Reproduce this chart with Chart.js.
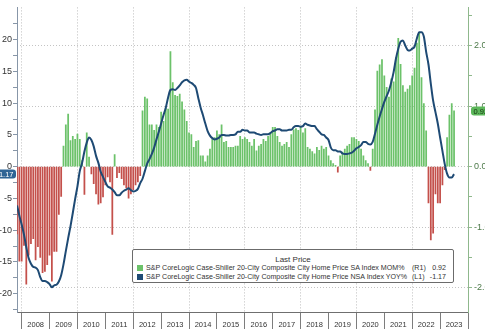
<!DOCTYPE html>
<html>
<head>
<meta charset="utf-8">
<script src="https://cdn.jsdelivr.net/npm/chart.js@4.4.1/dist/chart.umd.min.js"></script>
<style>
  html, body { margin: 0; padding: 0; background: #fff; }
  #wrap { position: relative; width: 485px; height: 329px; overflow: hidden; }
  #chart { position: absolute; left: 0; top: 0; }
  #legendBox {
    position: absolute; left: 132px; top: 249px; width: 320px; height: 32px;
    border: 1px solid #6b6b6b; border-radius: 2px; background: #fff;
    font-family: "Liberation Sans", Arial, sans-serif; font-size: 7.1px; color: #333;
  }
  #legendBox div { position: absolute; white-space: nowrap; line-height: 8px; height: 8px; }
  .lgTitle { left: 0; right: 0; top: 6px; text-align: center; font-size: 8px; }
  .sw { width: 6px !important; height: 6px !important; }
</style>
</head>
<body>
<div id="wrap">
  <canvas id="chart" width="485" height="329"></canvas>
  <div id="legendBox">
    <div class="lgTitle">Last Price</div>
    <div class="sw" style="left:4px; top:15px; background:#6cc26a;"></div>
    <div id="lgName1" style="left:13px; top:14px;"></div>
    <div style="left:279px; top:14px;">(R1)</div>
    <div id="lgVal1" style="left:294px; width:19px; text-align:right; top:14px;"></div>
    <div class="sw" style="left:4px; top:24px; background:#1e4a74;"></div>
    <div id="lgName2" style="left:13px; top:23px;"></div>
    <div style="left:279px; top:23px;">(L1)</div>
    <div id="lgVal2" style="left:294px; width:19px; text-align:right; top:23px;"></div>
  </div>
</div>
<script>
// monthly series, first observation Oct 2007, last Jun 2023
const startYear = 2007;
const startMonth = 10;

const yearLabels = ['2008','2009','2010','2011','2012','2013','2014','2015',
                    '2016','2017','2018','2019','2020','2021','2022','2023'];

const momName = 'S&P CoreLogic Case-Shiller 20-City Composite City Home Price SA Index MOM%';
const yoyName = 'S&P CoreLogic Case-Shiller 20-City Composite City Home Price NSA Index YOY%';

// SA index, month over month %
const momValues = [
  -1.11, -1.56, -1.56,                                                        // 2007 Q4
  -1.30, -1.94, -1.46, -1.27, -1.19, -1.54, -1.32, -1.50, -1.75, -1.73, -1.62, -1.46, // 2008
  -1.89, -1.40, -1.40, -0.79, -0.49, 0.34, 0.69, 0.87, 0.43, 0.50, 0.45, 0.54,        // 2009
  0.45, 0.10, -0.46, 0.56, 0.16, -0.12, -0.28, -0.45, -0.62, -0.60, -0.50, -0.30,     // 2010
  -0.17, -0.25, -1.12, 0.20, -0.18, -0.10, -0.20, -0.30, -0.35, -0.52, -0.45, -0.38,  // 2011
  -0.30, -0.25, -0.15, 0.92, 1.15, 1.12, 0.69, 0.69, 0.60, 0.69, 0.65, 0.90,          // 2012
  0.75, 0.97, 0.95, 1.90, 1.39, 1.18, 1.16, 1.20, 1.07, 0.94, 0.75, 0.56,             // 2013
  0.53, 0.32, 0.42, 0.43, 0.18, 0.18, 0.08, 0.18, 0.29, 0.45, 0.48, 0.59,             // 2014
  0.53, 0.69, 0.40, 0.42, 0.32, 0.32, 0.32, 0.34, 0.34, 0.50, 0.45, 0.48,             // 2015
  0.45, 0.40, 0.34, 0.45, 0.26, 0.34, 0.37, 0.45, 0.42, 0.50, 0.56, 0.65,             // 2016
  0.65, 0.50, 0.40, 0.34, 0.37, 0.40, 0.32, 0.53, 0.61, 0.63, 0.60, 0.65,             // 2017
  0.56, 0.63, 0.32, 0.29, 0.25, 0.21, 0.32, 0.27, 0.34, 0.29, 0.32, 0.18,             // 2018
  0.10, 0.05, 0.02, -0.09, 0.18, 0.24, 0.29, 0.34, 0.37, 0.48, 0.48, 0.45,            // 2019
  0.42, 0.29, 0.18, 0.10, 0.05, -0.06, 0.29, 0.94, 1.58, 1.68, 1.77, 1.50,            // 2020
  1.31, 1.15, 1.45, 1.40, 1.80, 2.12, 1.69, 1.34, 1.23, 1.28, 1.34, 1.50,             // 2021
  1.63, 2.04, 2.22, 1.47, 1.04, 0.59, -0.60, -1.21, -1.10, -0.45, -0.60, -0.60,       // 2022
  -0.30, -0.05, 0.48, 0.85, 1.04, 0.92                                                // 2023
];

// NSA index, year over year %
const yoyValues = [
  -6.1, -7.7, -9.1,
  -10.7, -12.7, -14.4, -15.3, -15.8, -15.9, -16.3, -17.4, -18.0, -18.0, -18.2, -18.5,
  -19.0, -18.7, -18.6, -18.1, -17.1, -15.4, -13.3, -11.3, -9.4, -7.3, -5.1, -3.1,
  -0.7, 0.6, 2.4, 3.8, 4.6, 4.2, 3.2, 1.7, 0.6, -0.8, -1.6, -2.4,
  -3.1, -3.3, -3.6, -4.0, -4.5, -4.5, -4.1, -3.8, -3.6, -3.4, -3.7, -3.9,
  -3.8, -3.5, -2.6, -1.9, -0.7, 0.5, 1.2, 2.0, 3.0, 4.3, 5.5, 6.8,
  8.1, 9.3, 10.9, 12.1, 12.2, 12.1, 12.4, 12.8, 13.3, 13.6, 13.7, 13.4,
  13.2, 12.9, 12.4, 10.8, 9.3, 8.1, 6.8, 5.6, 4.9, 4.5, 4.3, 4.4,
  4.6, 5.0, 5.0, 4.9, 4.9, 5.0, 5.0, 5.1, 5.5, 5.5, 5.8, 5.7,
  5.7, 5.4, 5.4, 5.4, 5.2, 5.1, 5.0, 5.1, 5.1, 5.1, 5.3, 5.6,
  5.7, 5.9, 5.9, 5.7, 5.7, 5.7, 5.8, 5.8, 6.2, 6.4, 6.4, 6.3,
  6.4, 6.8, 6.6, 6.5, 6.4, 6.4, 5.9, 5.5, 5.1, 5.0, 4.6, 4.2,
  3.0, 2.6, 2.6, 2.4, 2.4, 2.1, 2.0, 2.0, 2.1, 2.2, 2.5, 2.9,
  3.1, 3.4, 3.9, 3.9, 3.6, 3.5, 3.9, 5.2, 6.6, 7.9, 9.1, 10.2,
  11.1, 12.0, 13.3, 14.9, 17.0, 18.6, 19.7, 19.9, 19.1, 18.4, 18.3, 18.6,
  18.9, 20.2, 21.2, 21.2, 20.5, 18.1, 16.1, 13.1, 10.4, 8.6, 6.8, 4.6,
  2.5, 0.4, -1.1, -1.7, -1.7, -1.17
];

const leftTicks = [-22.5,-20,-17.5,-15,-12.5,-10,-7.5,-5,-2.5,0,2.5,5,7.5,10,12.5,15,17.5,20,22.5];
const leftLabels = [-20,-15,-10,-5,0,5,10,15,20];
const rightTicks = [-2,-1.5,-1,-0.5,0,0.5,1,1.5,2,2.5];
const rightLabels = [-2,-1,0,1,2];

const green = '#6cc26a';
const red = '#c4504b';
const navy = '#1e4a74';

// x = months since 1 Jan 2008, each observation sits at its month end
const firstOffset = (startYear - 2008) * 12 + (startMonth - 1) + 1;
const toX = i => firstOffset + i;

const momPoints = momValues.map((v, i) => ({x: toX(i), y: v}));
const yoyPoints = yoyValues.map((v, i) => ({x: toX(i), y: v}));

document.getElementById('lgName1').textContent = momName;
document.getElementById('lgName2').textContent = yoyName;
document.getElementById('lgVal1').textContent = momValues[momValues.length - 1].toFixed(2);
document.getElementById('lgVal2').textContent = yoyValues[yoyValues.length - 1].toFixed(2);

function roundRect(ctx, x, y, w, h, r) {
  ctx.beginPath();
  ctx.moveTo(x + r, y);
  ctx.arcTo(x + w, y, x + w, y + h, r);
  ctx.arcTo(x + w, y + h, x, y + h, r);
  ctx.arcTo(x, y + h, x, y, r);
  ctx.arcTo(x, y, x + w, y, r);
  ctx.closePath();
}

// last value tags on both axes
const lastTags = {
  id: 'lastTags',
  afterDraw(chart) {
    const ctx = chart.ctx;
    const yoyLast = yoyValues[yoyValues.length - 1];
    const momLast = momValues[momValues.length - 1];
    const yl = chart.scales.yL.getPixelForValue(yoyLast);
    const yr = chart.scales.yR.getPixelForValue(momLast);
    ctx.save();
    ctx.font = '7.5px "Liberation Sans", Arial, sans-serif';
    ctx.textBaseline = 'middle';

    roundRect(ctx, -4, yl - 4.5, 20, 9, 3);
    ctx.fillStyle = '#2f6495';
    ctx.fill();
    ctx.fillStyle = '#fff';
    ctx.textAlign = 'right';
    ctx.fillText(yoyLast.toFixed(2), 13.5, yl + 0.5);

    roundRect(ctx, 471, yr - 4.5, 20, 9, 3);
    ctx.fillStyle = '#5cb85a';
    ctx.fill();
    ctx.fillStyle = '#14300f';
    ctx.textAlign = 'left';
    ctx.fillText(momLast.toFixed(2), 473.5, yr + 0.5);
    ctx.restore();
  }
};

const isEvenYear = v => Math.round(v) % 24 === 0;

new Chart(document.getElementById('chart'), {
  data: {
    datasets: [
      {
        type: 'line', label: yoyName, data: yoyPoints, yAxisID: 'yL', order: 0,
        borderColor: navy, borderWidth: 2, pointRadius: 0,
        tension: 0.4, cubicInterpolationMode: 'monotone'
      },
      {
        type: 'bar', label: momName, data: momPoints, yAxisID: 'yR', order: 1,
        backgroundColor: momValues.map(v => v >= 0 ? green : red),
        barThickness: 1.1
      }
    ]
  },
  options: {
    responsive: false, animation: false, devicePixelRatio: 1,
    layout: {padding: 0},
    plugins: {legend: {display: false}, tooltip: {enabled: false}},
    scales: {
      x: {
        type: 'linear', position: 'bottom', offset: false,
        min: toX(0), max: yearLabels.length * 12,
        afterBuildTicks: s => { s.ticks = yearLabels.map((y, i) => ({value: i * 12})).concat([{value: yearLabels.length * 12}]); },
        afterFit: s => { s.height = 17; },
        grid: {
          offset: false,
          color: c => (c.tick && isEvenYear(c.tick.value)) ? '#bdbdbd' : 'rgba(0,0,0,0)',
          tickColor: '#7d7d7d', tickLength: 17, lineWidth: 1
        },
        border: {color: '#6f6f6f', dash: [1, 2]},
        ticks: {
          autoSkip: false, maxRotation: 0, padding: -9, labelOffset: 14,
          color: '#333', font: {family: '"Liberation Sans", Arial, sans-serif', size: 7.5},
          callback: (v, i) => yearLabels[i] || ''
        }
      },
      yL: {
        type: 'linear', position: 'left', min: -22.9, max: 25.1,
        afterBuildTicks: s => { s.ticks = leftTicks.map(v => ({value: v})); },
        afterFit: s => { s.width = 17; },
        grid: {drawOnChartArea: false, tickColor: '#8796a8', tickLength: 4},
        border: {color: '#8796a8'},
        ticks: {
          padding: 1, color: '#333', font: {family: '"Liberation Sans", Arial, sans-serif', size: 9},
          callback: v => leftLabels.includes(v) ? String(v) : ''
        }
      },
      yR: {
        type: 'linear', position: 'right', min: -2.4, max: 2.63,
        afterBuildTicks: s => { s.ticks = rightTicks.map(v => ({value: v})); },
        afterFit: s => { s.width = 17; },
        grid: {
          color: c => (c.tick && rightLabels.includes(c.tick.value)) ? '#c4c4c4' : 'rgba(0,0,0,0)',
          tickColor: '#8fb88c', tickLength: 4
        },
        border: {color: '#8fb88c', dash: [1, 2]},
        ticks: {
          padding: 2, color: '#4d7a4a', font: {family: '"Liberation Sans", Arial, sans-serif', size: 9},
          callback: v => rightLabels.includes(v) ? v.toFixed(2) : ''
        }
      }
    }
  },
  plugins: [lastTags]
});
</script>
</body>
</html>
